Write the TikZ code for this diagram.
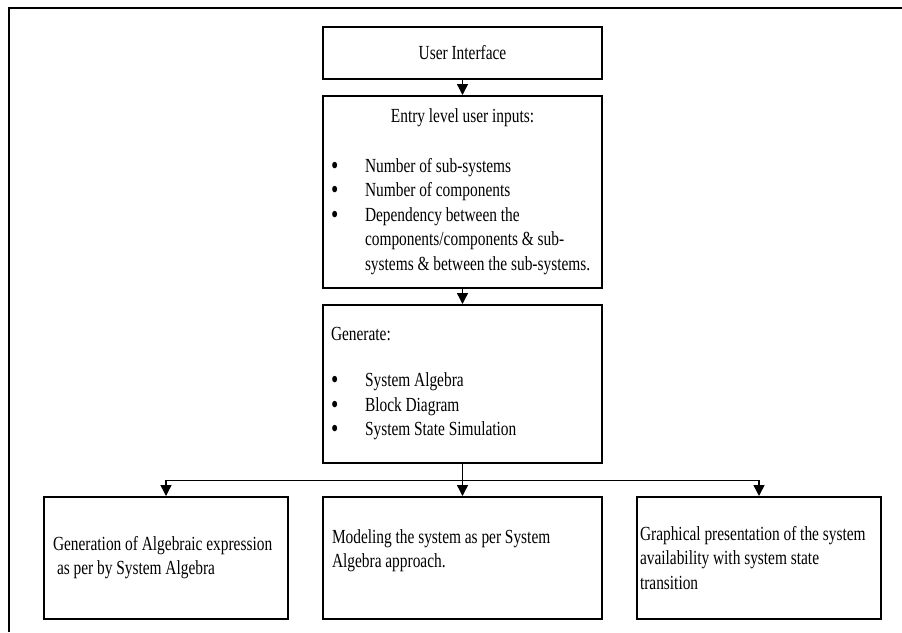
\documentclass[tikz,border=0pt]{standalone}
\usepackage{fontspec}
\setmainfont{Liberation Serif}[FakeStretch=0.77]
\usetikzlibrary{arrows.meta}

\newcommand{\bitem}{\makebox[34pt][l]{\raisebox{-2pt}{\fontsize{27}{0}\selectfont\textbullet}}}
\newcommand{\bcont}{\hspace*{34pt}}

\begin{document}
\begin{tikzpicture}[x=1pt,y=-1pt,
    block/.style={draw, line width=1.5pt, align=flush left, inner xsep=8pt, inner ysep=0pt,
      anchor=north, font=\fontsize{20}{24.5}\selectfont,
      execute at begin node={\spaceskip=3.8pt plus 1pt minus 0.5pt\relax}},
    conn/.style={line width=1.4pt, -{Triangle[length=11pt,width=11pt]}}]
    \useasboundingbox (0,0) rectangle (902,632);

    % Frame
    \draw[line width=1.5pt] (9,632) -- (9,8) -- (902,8);

    % Main column
    \node[block, minimum width=279pt, minimum height=52pt] (ui) at (462.5,26) {User Interface};
    \node[block, text width=263pt, minimum height=192pt] (entry) at (462.5,95)
      {\makebox[\hsize]{Entry level user inputs:}\\[25pt]
       \bitem Number of sub-systems\\
       \bitem Number of components\\
       \bitem Dependency between the\\
       \bcont components/components \& sub-\\
       \bcont systems \& between the sub-systems.};
    \node[block, text width=263pt, minimum height=158pt] (gen) at (462.5,304)
      {Generate:\\[22pt]
       \bitem System Algebra\\
       \bitem Block Diagram\\
       \bitem System State Simulation};

    % Output blocks
    \node[block, inner xsep=9pt, text width=226pt, minimum height=122pt] (alg) at (166,496)
      {Generation of Algebraic expression\\
       \hspace*{4pt}as per by System Algebra};
    \node[block, inner xsep=9pt, text width=261pt, minimum height=122pt] (model) at (462.5,496)
      {Modeling the system as per System\\
       Algebra approach.\\[-6pt]\mbox{}};
    \node[block, inner xsep=3pt, text width=238pt, minimum height=122pt] (graph) at (759,496)
      {Graphical presentation of the system\\
       availability with system state\\
       transition};

    % Connectors
    \draw[conn] (ui) -- (entry);
    \draw[conn] (entry) -- (gen);
    \draw[line width=1.4pt] (gen.south) -- ++(0,17) coordinate (bus);
    \draw[conn] (bus) -| (alg.north);
    \draw[conn] (bus) -- (model.north);
    \draw[conn] (bus) -| (graph.north);
\end{tikzpicture}
\end{document}
